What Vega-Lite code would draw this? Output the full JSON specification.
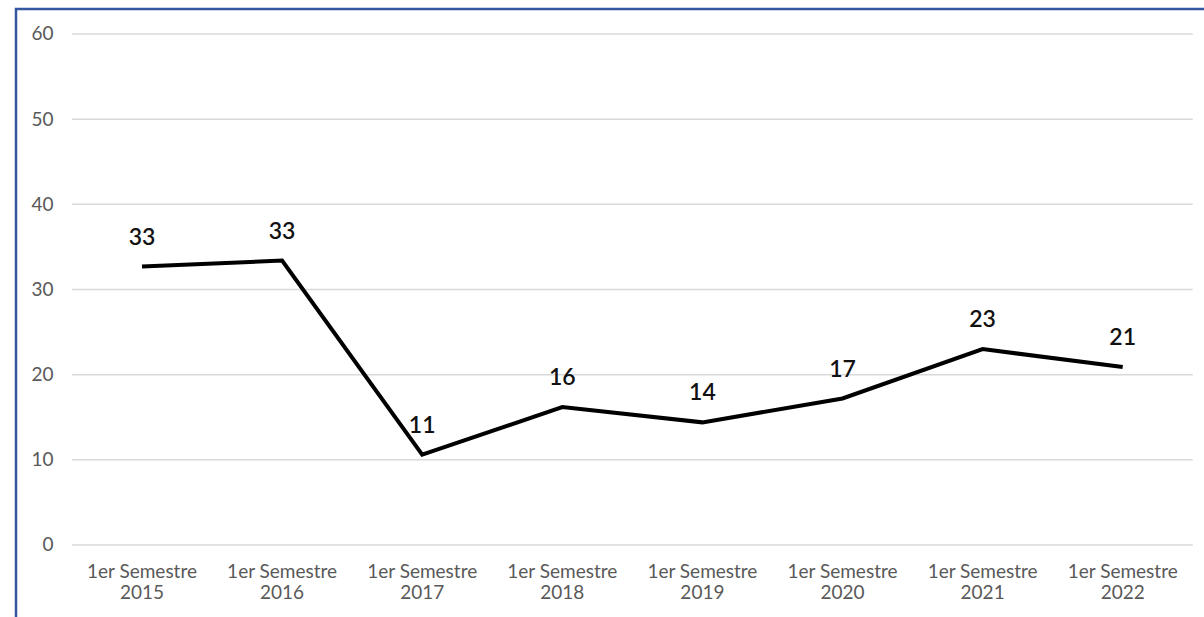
{
  "$schema": "https://vega.github.io/schema/vega-lite/v6.json",
  "autosize": "none",
  "width": 1192,
  "height": 612,
  "padding": {"left": 16, "top": 9, "right": 0, "bottom": 0},
  "background": "white",
  "config": {
    "view": {"stroke": "#3457A3", "strokeWidth": 2.5},
    "font": "Lato"
  },
  "datasets": {
    "serie": [
      {"periodo": "1er Semestre 2015", "valor": 32.7},
      {"periodo": "1er Semestre 2016", "valor": 33.4},
      {"periodo": "1er Semestre 2017", "valor": 10.6},
      {"periodo": "1er Semestre 2018", "valor": 16.2},
      {"periodo": "1er Semestre 2019", "valor": 14.4},
      {"periodo": "1er Semestre 2020", "valor": 17.2},
      {"periodo": "1er Semestre 2021", "valor": 23.0},
      {"periodo": "1er Semestre 2022", "valor": 20.9}
    ],
    "grid": [
      {"g": 0}, {"g": 10}, {"g": 20}, {"g": 30}, {"g": 40}, {"g": 50}, {"g": 60}
    ]
  },
  "layer": [
    {
      "data": {"name": "grid"},
      "mark": {"type": "rule", "color": "#d9d9d9", "strokeWidth": 1.5},
      "encoding": {
        "x": {"datum": "1er Semestre 2015", "bandPosition": 0, "type": "nominal"},
        "x2": {"datum": "1er Semestre 2022", "bandPosition": 1},
        "y": {"field": "g", "type": "quantitative"}
      }
    },
    {
      "data": {"name": "serie"},
      "mark": {"type": "line", "color": "#000000", "strokeWidth": 4},
      "encoding": {
        "x": {
          "field": "periodo",
          "type": "nominal",
          "bandPosition": 0.5,
          "scale": {"type": "band", "paddingInner": 0, "paddingOuter": 0.254, "align": 0.786},
          "axis": {
            "title": null,
            "orient": "bottom",
            "offset": -76,
            "domain": false,
            "ticks": false,
            "labelAngle": 0,
            "labelAlign": "center",
            "labelPadding": 17,
            "labelBaseline": "top",
            "labelFont": "Lato",
            "labelFontSize": 19,
            "labelColor": "#595959",
            "labelLineHeight": 21,
            "labelExpr": "['1er Semestre', substring(datum.label, 13)]"
          }
        },
        "y": {
          "field": "valor",
          "type": "quantitative",
          "scale": {"domain": [-8.924, 62.935], "nice": false, "zero": false},
          "axis": {
            "title": null,
            "orient": "left",
            "offset": -56,
            "domain": false,
            "ticks": false,
            "grid": false,
            "values": [0, 10, 20, 30, 40, 50, 60],
            "labelPadding": 19,
            "labelFont": "Lato",
            "labelFontSize": 19,
            "labelColor": "#595959"
          }
        }
      }
    },
    {
      "data": {"name": "serie"},
      "mark": {"type": "text", "dy": -29, "baseline": "middle", "align": "center", "font": "Lato", "fontSize": 23, "fontWeight": 600, "color": "#111111"},
      "encoding": {
        "x": {"field": "periodo", "type": "nominal", "bandPosition": 0.5},
        "y": {"field": "valor", "type": "quantitative"},
        "text": {"field": "valor", "type": "quantitative", "format": ".0f"}
      }
    }
  ]
}
